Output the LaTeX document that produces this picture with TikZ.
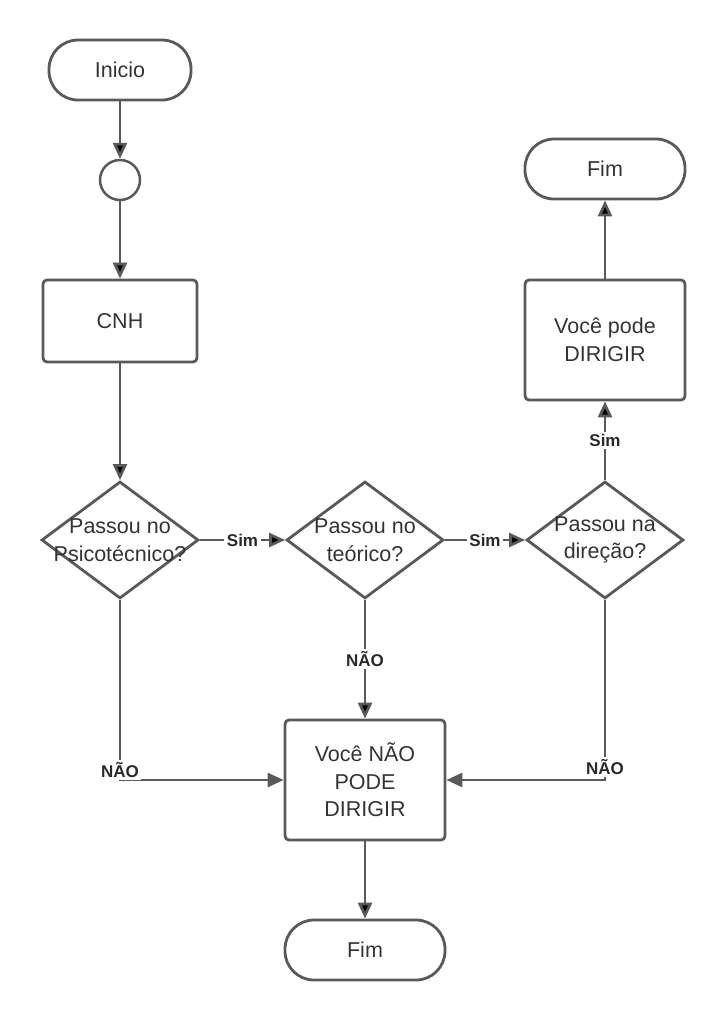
\documentclass[tikz,border=0pt]{standalone}
\usepackage{fontspec}
\setmainfont{Liberation Sans}
\usetikzlibrary{shapes.geometric, positioning, arrows.meta}
\definecolor{linha}{HTML}{595959}
\definecolor{texto}{HTML}{333333}

\begin{document}
\begin{tikzpicture}[on grid, node distance=200pt,
    every node/.style={text=texto, font=\fontsize{21.5}{27.5}\selectfont},
    terminal/.style={draw=linha, line width=2.8pt, rectangle, rounded corners=29pt, minimum width=160pt, minimum height=60pt},
    processo/.style={draw=linha, line width=2.8pt, rectangle, rounded corners=4pt, align=center, minimum width=160pt, minimum height=120pt},
    conector/.style={draw=linha, line width=2.5pt, circle, minimum size=40pt, inner sep=0pt},
    decisao/.style={draw=linha, line width=2.8pt, diamond, inner sep=0pt, minimum width=157pt, minimum height=117pt},
    pergunta/.style={align=center, inner sep=0pt},
    rotulo/.style={fill=white, inner sep=2.5pt, font=\fontsize{17}{20}\selectfont\bfseries, text=texto!80!black},
    seta/.style={draw=linha, line width=2.7pt, -{Triangle[length=16pt, width=14pt]}}]

    \useasboundingbox (0,0) rectangle (725pt,-1020pt);

    % caixas
    \node[terminal, minimum width=142pt] (inicio) at (120pt,-70pt) {Inicio};
    \node[conector, below=110pt of inicio] (circ) {};
    \node[processo, below=141pt of circ, minimum width=154pt, minimum height=82pt] (cnh) {CNH};
    \node[decisao, below=219pt of cnh, label={[pergunta]center:Passou no\\Psicotécnico?}] (psico) {};
    \node[decisao, right=245pt of psico, label={[pergunta]center:Passou no\\teórico?}] (teorico) {};
    \node[decisao, right=240pt of teorico, label={[pergunta]center:Passou na\\direção?}] (direcao) {};
    \node[processo, above of=direcao] (pode) {Você pode\\DIRIGIR};
    \node[terminal, above=171pt of pode] (fim1) {Fim};
    \node[processo, below=240pt of teorico] (naopode) {Você NÃO\\PODE\\DIRIGIR};
    \node[terminal, below=170pt of naopode] (fim2) {Fim};

    % ligacoes
    \path[seta]
    (inicio) edge (circ)
    (circ) edge (cnh)
    (cnh) edge (psico)
    (psico) edge node[rotulo] {Sim} (teorico)
    (teorico) edge node[rotulo] {Sim} (direcao)
    (direcao) edge node[rotulo] {Sim} (pode)
    (pode) edge (fim1)
    (teorico) edge node[rotulo] {NÃO} (naopode)
    (naopode) edge (fim2);
    \draw[seta] (psico) |- node[rotulo, pos=0.472] {NÃO} (naopode);
    \draw[seta] (direcao) |- node[rotulo, pos=0.464] {NÃO} (naopode);
\end{tikzpicture}
\end{document}
